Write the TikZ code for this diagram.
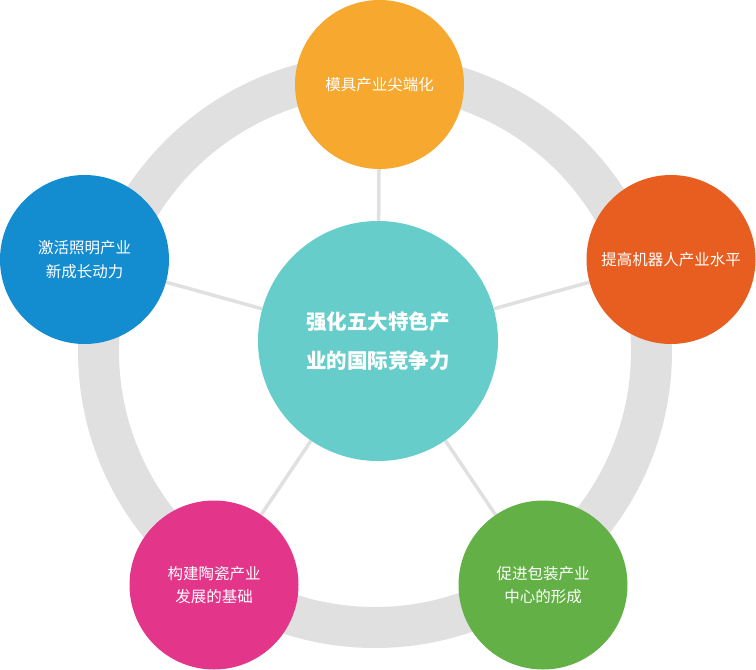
\documentclass[tikz,border=0pt]{standalone}
\usepackage{fontspec}
\setmainfont{Noto Sans CJK SC}
\usetikzlibrary{backgrounds}
\definecolor{ringgray}{HTML}{E0E0E0}
\definecolor{hubteal}{HTML}{67CDCB}
\definecolor{moldorange}{HTML}{F6A82F}
\definecolor{robotred}{HTML}{E85E20}
\definecolor{lightblue}{HTML}{138CD0}
\definecolor{ceramicpink}{HTML}{E3358A}
\definecolor{packgreen}{HTML}{62B046}
\tikzset{%
  bubble/.style={circle,inner sep=0pt,minimum size=169pt,text=white,
    align=center,font=\fontsize{15.5pt}{23.5pt}\selectfont},
  hub/.style={circle,inner sep=0pt,minimum size=240pt,text=white,fill=hubteal,
    align=center,font=\fontsize{20.5pt}{39pt}\selectfont\bfseries},
  spoke/.style={draw=ringgray,line width=3.5pt},
  ring/.style={draw=ringgray,line width=41pt}
}

\begin{document}
\begin{tikzpicture}[x=1pt,y=-1pt]
  \useasboundingbox (0,0) rectangle (756,670);

  \node [hub] (hub) at (378,341) {强化五大特色产\\业的国际竞争力};

  \node [bubble,fill=moldorange] (mold) at (379.5,84.5) {模具产业尖端化};
  \node [bubble,fill=robotred] (robot) at (671,259.5) {提高机器人产业水平};
  \node [bubble,fill=lightblue] (light) at (84.5,259.5) {激活照明产业\\新成长动力};
  \node [bubble,fill=ceramicpink] (ceramic) at (214,585) {构建陶瓷产业\\发展的基础};
  \node [bubble,fill=packgreen] (pack) at (543,585) {促进包装产业\\中心的形成};

  \begin{pgfonlayer}{background}
    \draw[ring] (375,351) circle (276.5pt);
    \foreach \n in {mold,robot,light,ceramic,pack}
      \draw[spoke] (hub) -- (\n);
  \end{pgfonlayer}
\end{tikzpicture}
\end{document}
